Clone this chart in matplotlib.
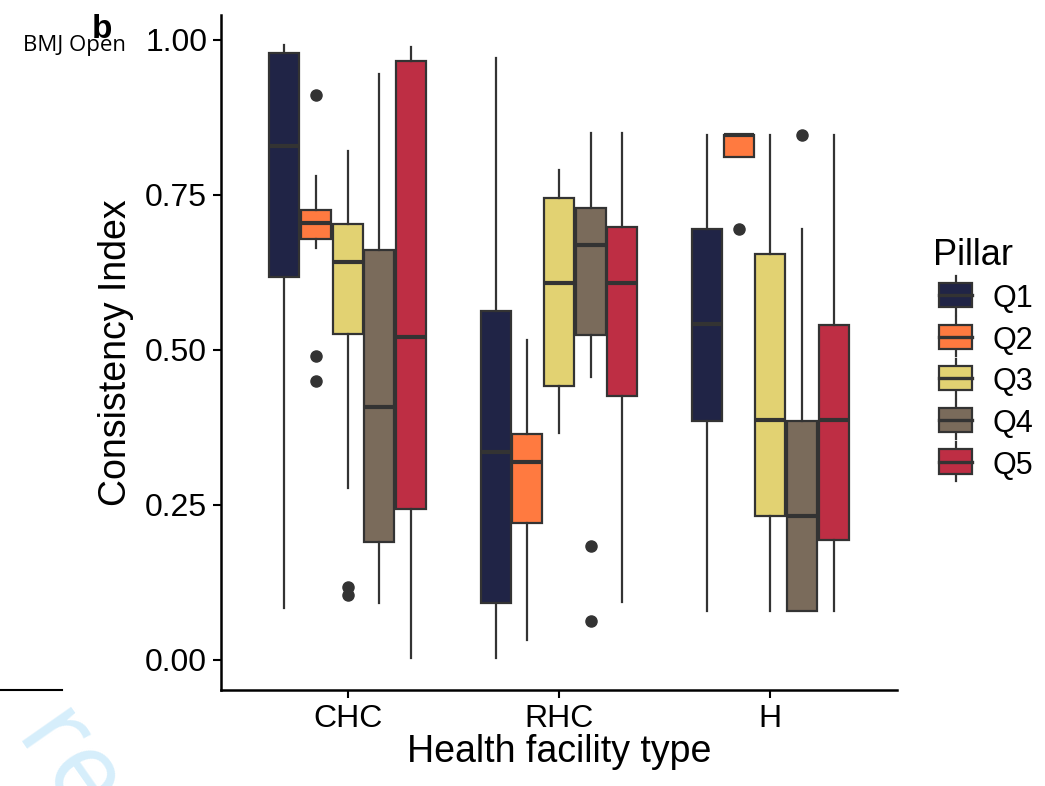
import matplotlib
matplotlib.use('Agg')
import matplotlib.pyplot as plt
from matplotlib.legend_handler import HandlerBase
from matplotlib.patches import Rectangle
from matplotlib.lines import Line2D

plt.rcParams['font.family'] = ['Liberation Sans', 'DejaVu Sans']

facilities = ['CHC', 'RHC', 'H']
pillars = ['Q1', 'Q2', 'Q3', 'Q4', 'Q5']
colors = ['#202446', '#FF7A40', '#E2D272', '#7A6B5B', '#BE2E44']

# box stats, per facility, per pillar
whislo = [[0.083, 0.664, 0.277, 0.091, 0.002],
          [0.002, 0.032, 0.366, 0.456, 0.093],
          [0.079, 0.810, 0.079, 0.079, 0.079]]
q1 = [[0.617, 0.678, 0.526, 0.190, 0.243],
      [0.092, 0.221, 0.441, 0.524, 0.426],
      [0.385, 0.810, 0.231, 0.079, 0.193]]
med = [[0.829, 0.705, 0.642, 0.407, 0.520],
       [0.335, 0.319, 0.608, 0.669, 0.608],
       [0.541, 0.846, 0.386, 0.231, 0.386]]
q3 = [[0.979, 0.725, 0.702, 0.661, 0.966],
      [0.562, 0.364, 0.744, 0.728, 0.698],
      [0.694, 0.847, 0.655, 0.385, 0.540]]
whishi = [[0.991, 0.780, 0.820, 0.945, 0.988],
          [0.971, 0.516, 0.789, 0.850, 0.850],
          [0.847, 0.847, 0.847, 0.694, 0.847]]
outliers = [[[], [0.911, 0.490, 0.450], [0.117, 0.105], [], []],
            [[], [], [], [0.184, 0.062], []],
            [[], [0.694], [], [0.847], []]]

EDGE = '#333333'


class BoxKey(HandlerBase):
    # legend key drawn like a small ggplot boxplot
    def create_artists(self, legend, orig_handle, xdescent, ydescent,
                       width, height, fontsize, trans):
        cx = width / 2 - xdescent
        bw = width * 0.72
        top = height * 1.3
        bot = -height * 0.3
        w1 = Line2D([cx, cx], [height, top], color=EDGE, linewidth=1.6, transform=trans)
        w2 = Line2D([cx, cx], [bot, 0], color=EDGE, linewidth=1.6, transform=trans)
        rect = Rectangle((cx - bw / 2, 0), bw, height, facecolor=orig_handle,
                         edgecolor=EDGE, linewidth=1.6, transform=trans)
        mid = Line2D([cx - bw / 2, cx + bw / 2], [height / 2, height / 2],
                     color=EDGE, linewidth=2.4, transform=trans)
        return [w1, w2, rect, mid]


fig = plt.figure(figsize=(10.45, 7.86), dpi=100)
ax = fig.add_axes([0.2115, 0.1221, 0.6469, 0.859])

dodge = 0.15
for gi in range(len(facilities)):
    for pi in range(len(pillars)):
        stats = [{'med': med[gi][pi], 'q1': q1[gi][pi], 'q3': q3[gi][pi],
                  'whislo': whislo[gi][pi], 'whishi': whishi[gi][pi],
                  'fliers': outliers[gi][pi]}]
        pos = gi + 1 + (pi - 2) * dodge
        ax.bxp(stats, positions=[pos], widths=0.142, patch_artist=True,
               showcaps=False,
               boxprops=dict(facecolor=colors[pi], edgecolor=EDGE, linewidth=1.6),
               medianprops=dict(color=EDGE, linewidth=3),
               whiskerprops=dict(color=EDGE, linewidth=1.6),
               flierprops=dict(marker='o', markerfacecolor=EDGE, markeredgecolor=EDGE,
                               markersize=8))

ax.set_xlim(0.4, 3.6)
ax.set_ylim(-0.049, 1.04)
ax.set_xticks([1, 2, 3])
ax.set_xticklabels(facilities)
ax.set_yticks([0, 0.25, 0.5, 0.75, 1.0])
ax.set_yticklabels(['0.00', '0.25', '0.50', '0.75', '1.00'])
ax.tick_params(labelsize=23, length=6, width=1.5, colors='black', pad=4)
for s in ['top', 'right']:
    ax.spines[s].set_visible(False)
for s in ['left', 'bottom']:
    ax.spines[s].set_linewidth(1.8)
ax.set_xlabel('Health facility type', fontsize=27, labelpad=0)
ax.set_ylabel('Consistency Index', fontsize=27, labelpad=8)

leg = ax.legend(colors, pillars, handler_map={str: BoxKey()},
                title='Pillar', loc='center left', bbox_to_anchor=(1.035, 0.49),
                frameon=False, fontsize=22, title_fontsize=26,
                handlelength=1.5, handleheight=0.85, labelspacing=0.38,
                handletextpad=0.45, borderaxespad=0)
leg._legend_box.align = 'left'

# page decorations
fig.text(0.022, 0.935, 'BMJ Open', fontsize=16, family=['Open Sans', 'DejaVu Sans'])
fig.text(0.088, 0.952, 'b', fontsize=24, fontweight='bold')
fig.add_artist(Line2D([0, 0.059], [0.122, 0.122], color='black', linewidth=1.5,
                      transform=fig.transFigure))
fig.text(-0.01, -0.04, 're', fontsize=80, color='#D6EEFB', rotation=-55,
         family=['Open Sans', 'DejaVu Sans'])

fig.savefig('out.png', dpi=100)
